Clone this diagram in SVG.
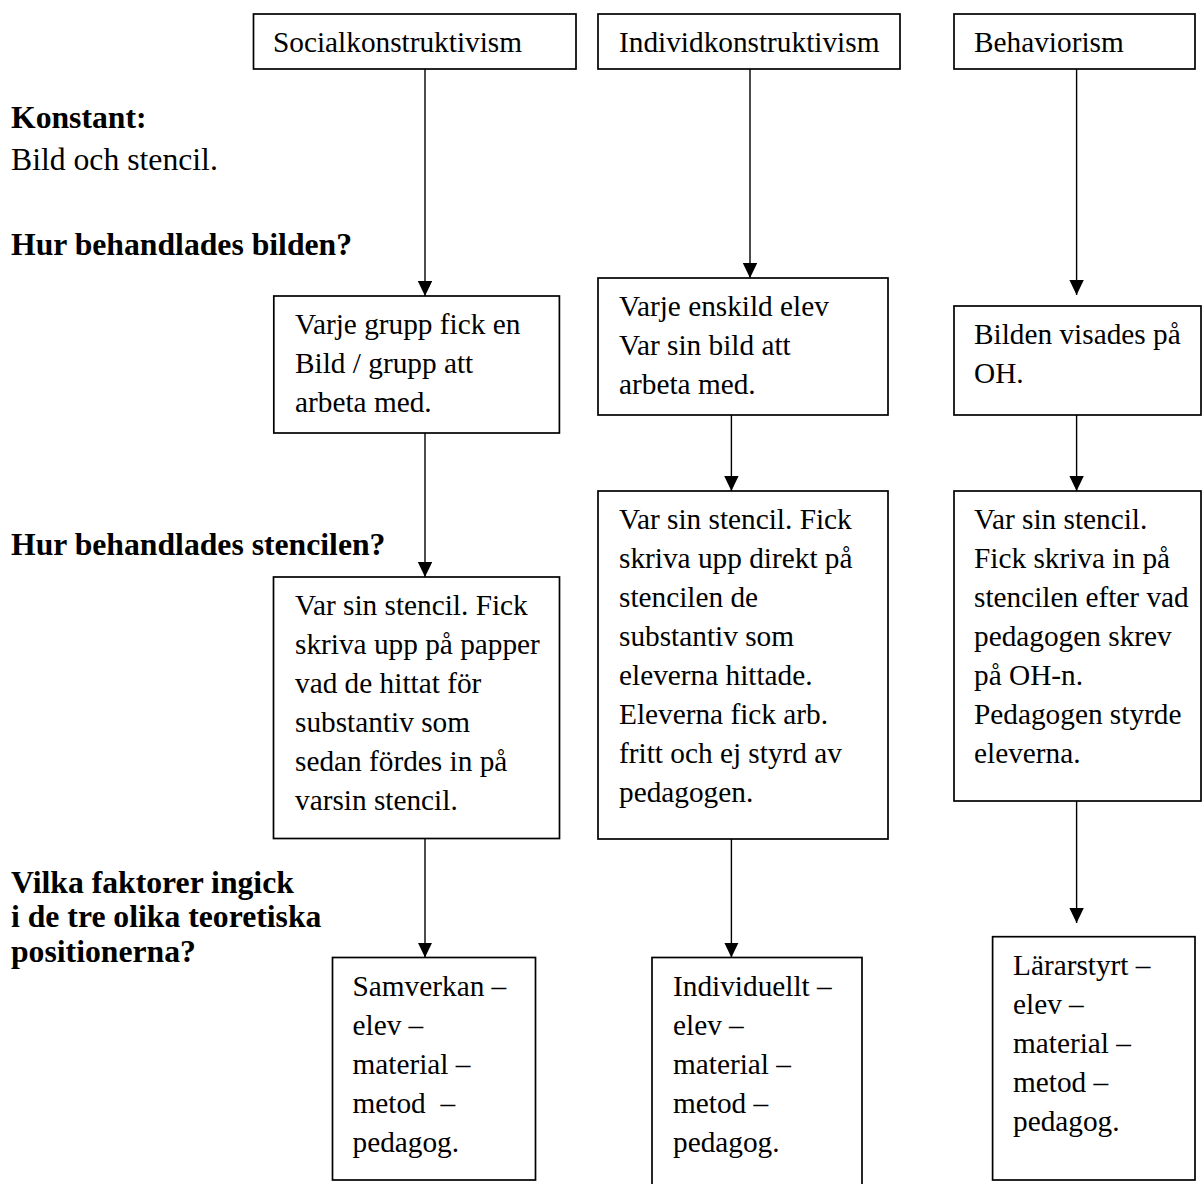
<svg xmlns="http://www.w3.org/2000/svg" width="1203" height="1184" viewBox="0 0 1203 1184">
<style>
  .box { fill: #ffffff; stroke: #000000; stroke-width: 1.7; }
  .t { font-family: "Liberation Serif", "Times New Roman", serif; font-size: 29.3px; fill: #000000; }
  .lab { font-family: "Liberation Serif", "Times New Roman", serif; font-size: 31.7px; fill: #000000; }
  .b { font-weight: bold; }
  .con line { stroke: #000000; stroke-width: 1.4; fill: none; }
</style>
<defs>
  <marker id="arr" markerUnits="userSpaceOnUse" markerWidth="16" markerHeight="16" refX="15" refY="7.2" orient="auto">
    <path d="M0,0 L15,7.2 L0,14.4 Z" fill="#000000"/>
  </marker>
</defs>
<rect x="0" y="0" width="1203" height="1184" fill="#ffffff"/>

<g id="labels">
  <text class="lab b" x="11" y="128">Konstant:</text>
  <text class="lab" x="11" y="170">Bild och stencil.</text>
  <text class="lab b" x="11" y="255">Hur behandlades bilden?</text>
  <text class="lab b" x="11" y="555">Hur behandlades stencilen?</text>
  <text class="lab b" x="11" y="893">Vilka faktorer ingick</text>
  <text class="lab b" x="11" y="927">i de tre olika teoretiska</text>
  <text class="lab b" x="11" y="962">positionerna?</text>
</g>

<g id="connectors" class="con">
  <line x1="425" y1="69" x2="425" y2="296" marker-end="url(#arr)"/>
  <line x1="425" y1="433" x2="425" y2="577" marker-end="url(#arr)"/>
  <line x1="425" y1="838.5" x2="425" y2="957.5" marker-end="url(#arr)"/>
  <line x1="750" y1="69" x2="750" y2="278" marker-end="url(#arr)"/>
  <line x1="731.4" y1="415" x2="731.4" y2="491" marker-end="url(#arr)"/>
  <line x1="731.4" y1="839" x2="731.4" y2="957.5" marker-end="url(#arr)"/>
  <line x1="1076.6" y1="69" x2="1076.6" y2="295" marker-end="url(#arr)"/>
  <line x1="1076.6" y1="415" x2="1076.6" y2="491" marker-end="url(#arr)"/>
  <line x1="1076.6" y1="801" x2="1076.6" y2="923" marker-end="url(#arr)"/>
</g>

<g id="h1">
  <rect class="box" x="253.5" y="14" width="322.5" height="55"/>
  <text class="t" x="273" y="52">Socialkonstruktivism</text>
</g>
<g id="h2">
  <rect class="box" x="598" y="14" width="302" height="55"/>
  <text class="t" x="619" y="52">Individkonstruktivism</text>
</g>
<g id="h3">
  <rect class="box" x="954" y="14" width="241" height="55"/>
  <text class="t" x="974" y="52">Behaviorism</text>
</g>

<g id="b1">
  <rect class="box" x="273.8" y="296" width="285.6" height="137"/>
  <text class="t" x="295" y="334">Varje grupp fick en</text>
  <text class="t" x="295" y="373">Bild / grupp att</text>
  <text class="t" x="295" y="412">arbeta med.</text>
</g>
<g id="b2">
  <rect class="box" x="598" y="278" width="290" height="137"/>
  <text class="t" x="619" y="316">Varje enskild elev</text>
  <text class="t" x="619" y="355">Var sin bild att</text>
  <text class="t" x="619" y="394">arbeta med.</text>
</g>
<g id="b3">
  <rect class="box" x="954" y="306" width="247" height="109"/>
  <text class="t" x="974" y="344">Bilden visades på</text>
  <text class="t" x="974" y="383">OH.</text>
</g>

<g id="c1">
  <rect class="box" x="273.5" y="577" width="286" height="261.5"/>
  <text class="t" x="295" y="615">Var sin stencil. Fick</text>
  <text class="t" x="295" y="654">skriva upp på papper</text>
  <text class="t" x="295" y="693">vad de hittat för</text>
  <text class="t" x="295" y="732">substantiv som</text>
  <text class="t" x="295" y="771">sedan fördes in på</text>
  <text class="t" x="295" y="810">varsin stencil.</text>
</g>
<g id="c2">
  <rect class="box" x="598" y="491" width="290" height="348"/>
  <text class="t" x="619" y="529">Var sin stencil. Fick</text>
  <text class="t" x="619" y="568">skriva upp direkt på</text>
  <text class="t" x="619" y="607">stencilen de</text>
  <text class="t" x="619" y="646">substantiv som</text>
  <text class="t" x="619" y="685">eleverna hittade.</text>
  <text class="t" x="619" y="724">Eleverna fick arb.</text>
  <text class="t" x="619" y="763">fritt och ej styrd av</text>
  <text class="t" x="619" y="802">pedagogen.</text>
</g>
<g id="c3">
  <rect class="box" x="954" y="491" width="247" height="310"/>
  <text class="t" x="974" y="529">Var sin stencil.</text>
  <text class="t" x="974" y="568">Fick skriva in på</text>
  <text class="t" x="974" y="607">stencilen efter vad</text>
  <text class="t" x="974" y="646">pedagogen skrev</text>
  <text class="t" x="974" y="685">på OH-n.</text>
  <text class="t" x="974" y="724">Pedagogen styrde</text>
  <text class="t" x="974" y="763">eleverna.</text>
</g>

<g id="d1">
  <rect class="box" x="332.5" y="957.5" width="203" height="222.5"/>
  <text class="t" x="352.5" y="996">Samverkan –</text>
  <text class="t" x="352.5" y="1035">elev –</text>
  <text class="t" x="352.5" y="1074">material –</text>
  <text class="t" x="352.5" y="1113">metod&#160; –</text>
  <text class="t" x="352.5" y="1152">pedagog.</text>
</g>
<g id="d2">
  <rect class="box" x="652" y="957.5" width="210" height="240"/>
  <text class="t" x="673" y="996">Individuellt –</text>
  <text class="t" x="673" y="1035">elev –</text>
  <text class="t" x="673" y="1074">material –</text>
  <text class="t" x="673" y="1113">metod –</text>
  <text class="t" x="673" y="1152">pedagog.</text>
</g>
<g id="d3">
  <rect class="box" x="992.6" y="936.7" width="202.4" height="243.3"/>
  <text class="t" x="1013" y="975">Lärarstyrt –</text>
  <text class="t" x="1013" y="1014">elev –</text>
  <text class="t" x="1013" y="1053">material –</text>
  <text class="t" x="1013" y="1092">metod –</text>
  <text class="t" x="1013" y="1131">pedagog.</text>
</g>
</svg>
